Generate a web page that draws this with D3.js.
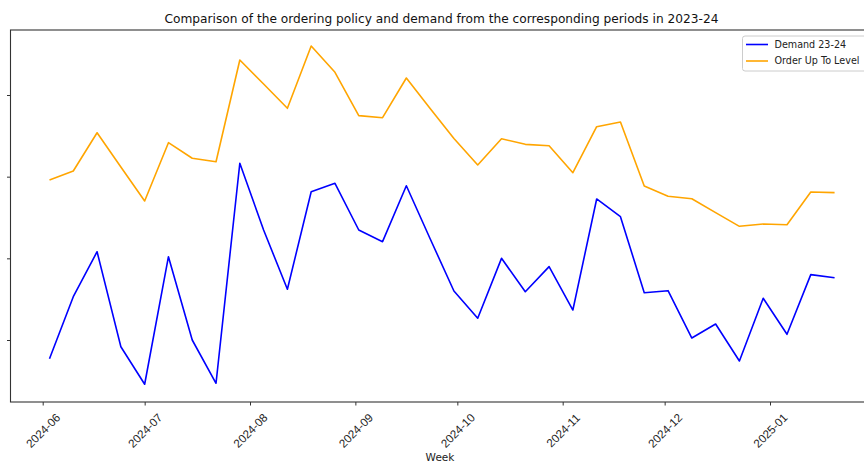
<!DOCTYPE html>
<html>
<head>
<meta charset="utf-8">
<script src="https://cdn.jsdelivr.net/npm/d3@7"></script>
<style>
  html, body { margin: 0; padding: 0; background: #fff; }
  svg { display: block; font-family: "DejaVu Sans", sans-serif; }
</style>
</head>
<body>
<svg id="chart" width="864" height="464"></svg>
<script>
// Weekly periods (week starting Monday)
const weeks = [
  "2024-06-03","2024-06-10","2024-06-17","2024-06-24","2024-07-01","2024-07-08",
  "2024-07-15","2024-07-22","2024-07-29","2024-08-05","2024-08-12","2024-08-19",
  "2024-08-26","2024-09-02","2024-09-09","2024-09-16","2024-09-23","2024-09-30",
  "2024-10-07","2024-10-14","2024-10-21","2024-10-28","2024-11-04","2024-11-11",
  "2024-11-18","2024-11-25","2024-12-02","2024-12-09","2024-12-16","2024-12-23",
  "2024-12-30","2025-01-06","2025-01-13","2025-01-20"
];

// Demand observed in the matching weeks of 2023-24
const demand = [
  77.1, 153.0, 208.1, 91.8, 45.8, 202.0, 100.0, 47.0, 316.4, 234.7, 162.1, 281.6,
  291.9, 234.7, 220.4, 288.9, 224.0, 160.0, 126.6, 200.0, 159.1, 189.8, 136.7, 272.7,
  251.0, 157.9, 160.4, 102.4, 119.6, 74.3, 151.1, 107.0, 180.0, 176.3
];

// Order-up-to level from the ordering policy
const orderUpTo = [
  295.9, 306.9, 353.8, 311.8, 270.2, 341.6, 322.5, 318.3, 442.9, 413.5, 383.7, 460.0,
  427.8, 374.7, 372.2, 420.8, 383.5, 346.7, 314.3, 346.5, 339.6, 337.9, 304.9, 361.2,
  366.9, 288.6, 276.0, 273.0, 255.9, 239.2, 242.0, 241.2, 281.2, 280.4
];

const yTicks = [100, 200, 300, 400];
const monthTicks = ["2024-06-01","2024-07-01","2024-08-01","2024-09-01","2024-10-01",
                    "2024-11-01","2024-12-01","2025-01-01"];

const seriesNames = ["Demand 23-24", "Order Up To Level"];
const seriesColors = ["blue", "orange"];

const parse = d3.utcParse("%Y-%m-%d");
const dates = weeks.map(parse);

const svg = d3.select("#chart");
const frame = { left: 10.5, right: 880, top: 30, bottom: 402 };

const x = d3.scaleUtc()
  .domain([parse("2024-06-01"), parse("2025-01-01")])
  .range([42.7, 770]);

const y = d3.scaleLinear()
  .domain([100, 400])
  .range([340, 95]);

// Title
svg.append("text")
  .attr("x", 441.5).attr("y", 22.5)
  .attr("text-anchor", "middle")
  .attr("font-size", 12.2)
  .attr("fill", "#111")
  .text("Comparison of the ordering policy and demand from the corresponding periods in 2023-24");

// Series lines
const line = vals => d3.line()
  .x((d, i) => x(dates[i]))
  .y(d => y(d))(vals);

[demand, orderUpTo].forEach((vals, k) => {
  svg.append("path")
    .attr("d", line(vals))
    .attr("fill", "none")
    .attr("stroke", seriesColors[k])
    .attr("stroke-width", 1.6)
    .attr("stroke-linejoin", "round");
});

// Axes frame
svg.append("rect")
  .attr("x", frame.left).attr("y", frame.top)
  .attr("width", frame.right - frame.left)
  .attr("height", frame.bottom - frame.top)
  .attr("fill", "none")
  .attr("stroke", "#333")
  .attr("stroke-width", 1.1);

// X axis
const xAxis = svg.append("g")
  .attr("transform", `translate(0,${frame.bottom})`)
  .call(d3.axisBottom(x)
    .tickValues(monthTicks.map(parse))
    .tickFormat(d3.utcFormat("%Y-%m"))
    .tickSize(3.5));
xAxis.select(".domain").remove();
xAxis.selectAll(".tick line").attr("stroke", "#333");
// Rotated labels centred under each tick
xAxis.selectAll(".tick text")
  .attr("font-size", 11.6)
  .attr("fill", "#222")
  .attr("text-anchor", "middle")
  .attr("y", 0)
  .attr("dy", "0.35em")
  .attr("transform", "translate(0,28.5) rotate(-45)");

// Y axis (tick marks only)
const yAxis = svg.append("g")
  .attr("transform", `translate(${frame.left},0)`)
  .call(d3.axisLeft(y).tickValues(yTicks).tickFormat("").tickSize(3.5));
yAxis.select(".domain").remove();
yAxis.selectAll(".tick line").attr("stroke", "#333");

// X axis title
svg.append("text")
  .attr("x", 440).attr("y", 461)
  .attr("text-anchor", "middle")
  .attr("font-size", 10.5)
  .attr("fill", "#222")
  .text("Week");

// Legend
const legend = svg.append("g").attr("transform", "translate(742.5,36)");
legend.append("rect")
  .attr("x", 0).attr("y", 0)
  .attr("width", 140).attr("height", 35)
  .attr("rx", 2.5)
  .attr("fill", "#fff").attr("fill-opacity", 0.8)
  .attr("stroke", "#ccc");
seriesNames.forEach((name, k) => {
  const ly = 8.5 + k * 16.5;
  legend.append("line")
    .attr("x1", 3.5).attr("x2", 25.5)
    .attr("y1", ly).attr("y2", ly)
    .attr("stroke", seriesColors[k])
    .attr("stroke-width", 1.6);
  legend.append("text")
    .attr("x", 32).attr("y", ly)
    .attr("dy", "0.35em")
    .attr("font-size", 9.6)
    .attr("fill", "#222")
    .text(name);
});
</script>
</body>
</html>
